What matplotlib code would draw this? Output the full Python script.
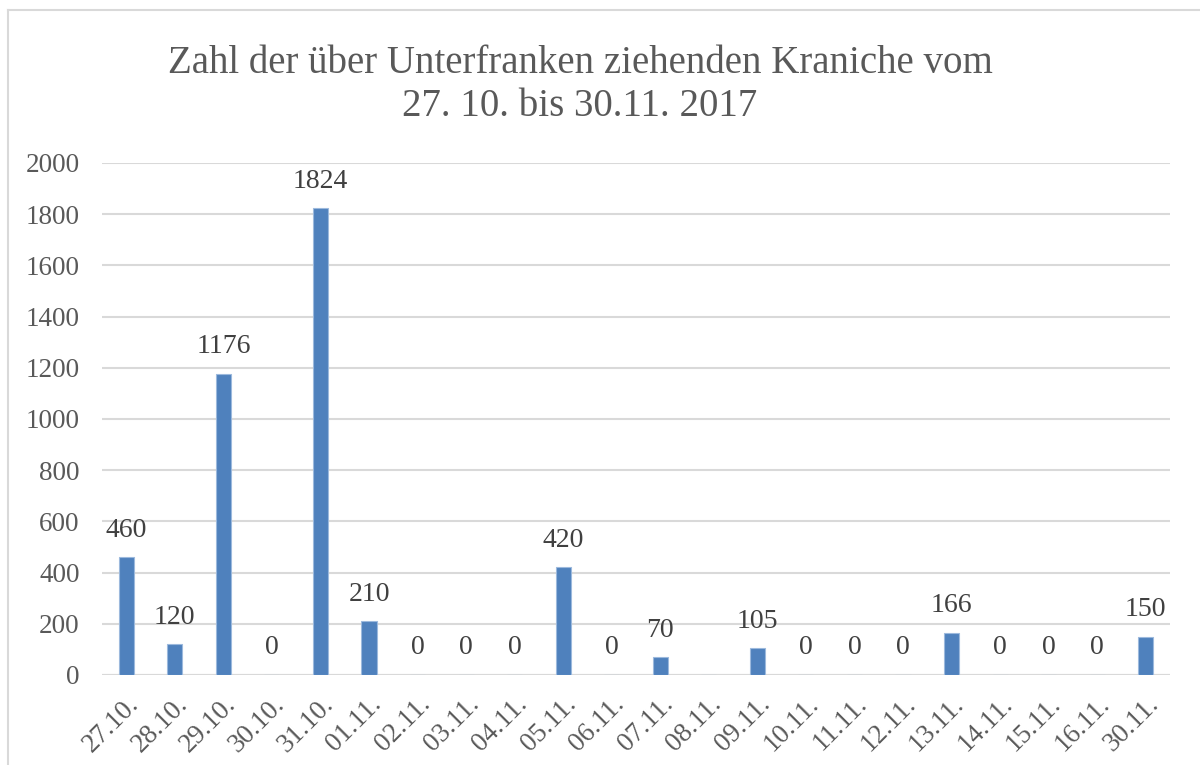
import numpy as np
import matplotlib
matplotlib.use("Agg")
import matplotlib.pyplot as plt
from matplotlib.lines import Line2D

dates = ["27.10.", "28.10.", "29.10.", "30.10.", "31.10.", "01.11.", "02.11.", "03.11.",
         "04.11.", "05.11.", "06.11.", "07.11.", "08.11.", "09.11.", "10.11.", "11.11.",
         "12.11.", "13.11.", "14.11.", "15.11.", "16.11.", "30.11."]
counts = [460, 120, 1176, 0, 1824, 210, 0, 0, 0, 420, 0, 70, None, 105, 0, 0, 0, 166, 0, 0, 0, 150]
yticks = [0, 200, 400, 600, 800, 1000, 1200, 1400, 1600, 1800, 2000]
title = "Zahl der über Unterfranken ziehenden Kraniche vom\n27. 10. bis 30.11. 2017"

plt.rcParams['font.family'] = ['Liberation Serif', 'DejaVu Serif']

W, H = 1200, 765
fig = plt.figure(figsize=(W / 100, H / 100), dpi=100)
ax = fig.add_axes([102 / W, 1 - 675 / H, (1170 - 102) / W, (675 - 163) / H])

x = np.arange(len(dates))
vals = np.array([np.nan if v is None else v for v in counts], dtype=float)
ax.bar(x, np.nan_to_num(vals), width=0.31, color="#4f81bd", edgecolor="#9cb9dd", linewidth=0.8, zorder=3)

for xi, v in zip(x, counts):
    if v is None:
        continue
    ax.annotate(str(v), (xi, v), xytext=(0, 27), textcoords="offset pixels",
                ha="center", va="center", fontsize=20, color="#404040")

ax.set_xlim(-0.5, len(dates) - 0.5)
ax.set_ylim(0, 2000)
ax.set_yticks(yticks)
ax.set_yticklabels([str(t) for t in yticks], fontsize=19.5, color="#595959")
ax.set_xticks(x)
ax.set_xticklabels(dates, rotation=45, ha="right", rotation_mode="anchor", fontsize=19.5, color="#595959")
ax.tick_params(axis="both", length=0)
ax.tick_params(axis="y", pad=16)
ax.tick_params(axis="x", pad=12)
ax.grid(axis="y", color="#d9d9d9", linewidth=1.5, zorder=0)
for s in ax.spines.values():
    s.set_visible(False)
ax.axhline(0, color="#d9d9d9", linewidth=1.5, zorder=2)

fig.text(580 / W, 1 - 85 / H, title, ha="center", va="center", fontsize=28,
         color="#595959", linespacing=1.2)

# chart border
fig.add_artist(Line2D([8 / W, 1.0], [1 - 10 / H, 1 - 10 / H], color="#d9d9d9", linewidth=1.5))
fig.add_artist(Line2D([8 / W, 8 / W], [0, 1 - 10 / H], color="#d9d9d9", linewidth=1.5))

fig.savefig("out.png", dpi=100, facecolor="white")
